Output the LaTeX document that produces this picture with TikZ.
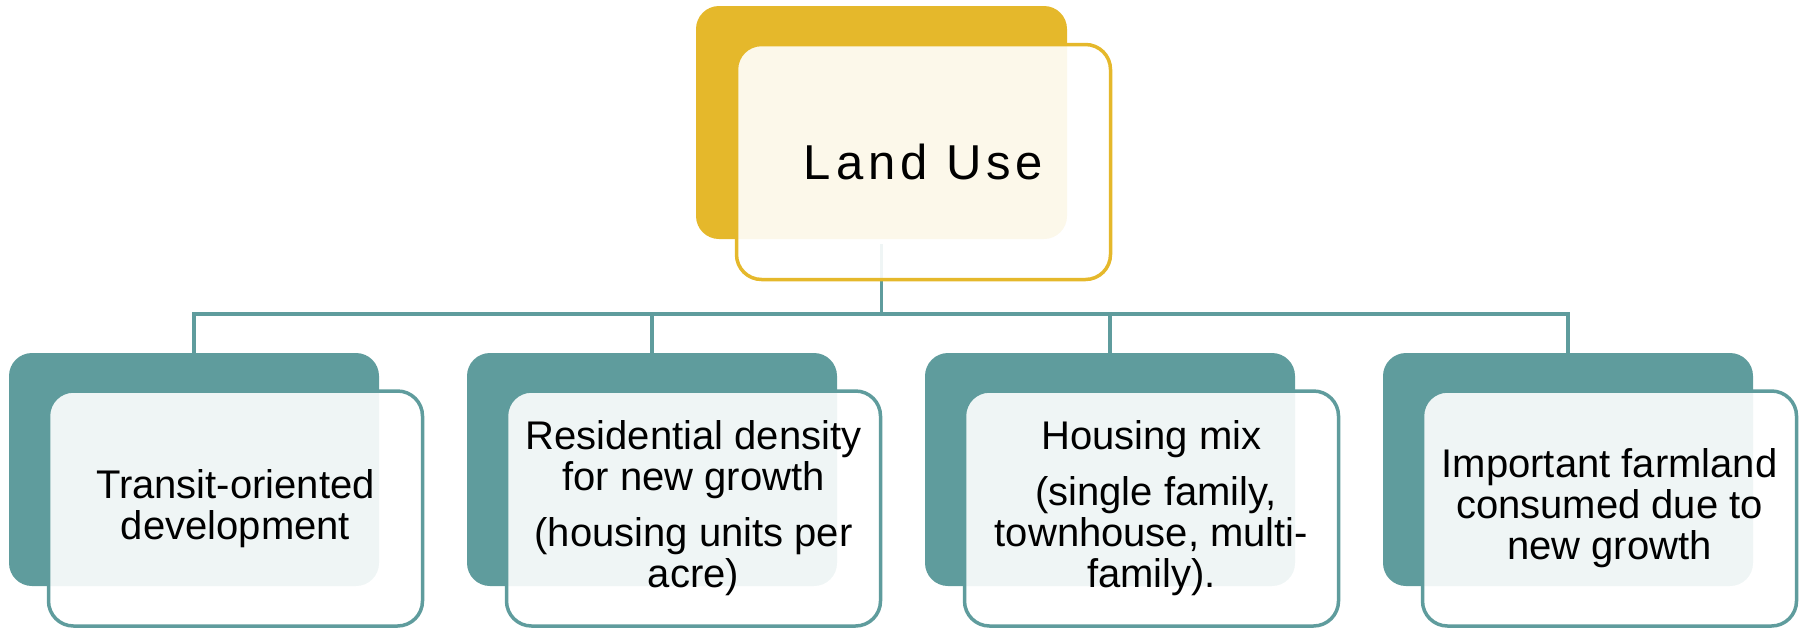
\documentclass[tikz,border=0pt]{standalone}
\usepackage{fontspec}
\setmainfont{Liberation Sans}
\definecolor{tealA}{HTML}{5F9C9D}
\definecolor{goldA}{HTML}{E5B82B}
\begin{document}
\begin{tikzpicture}[x=1pt,y=-1pt,
  backbox/.style={rectangle, rounded corners=23pt, minimum width=370pt, minimum height=233pt, inner sep=0pt},
  frontbox/.style={rectangle, rounded corners=25pt, minimum width=374pt, minimum height=235pt, inner sep=0pt,
    fill=white, fill opacity=0.9, text opacity=1, line width=3.5pt, align=center},
  kidfont/.style={font=\fontsize{40pt}{41pt}\selectfont},
  conn/.style={draw=tealA, line width=3.5pt}]
\useasboundingbox (0,0) rectangle (1804,630);
% back boxes
\node[backbox, fill=goldA, minimum width=371pt] (topb) at (881.5,122.5) {};
\foreach \i in {0,1,2,3} {
  \node[backbox, fill=tealA] (b\i) at (194+458*\i,469.5) {};
}
% connectors
\coordinate (bus) at (881.5,314);
\draw[conn] ([yshift=-5pt]topb.south) -- (bus);
\draw[conn] (b0.north) |- (bus) -| (b3.north);
\draw[conn] (b1.north) -- (b1.north |- bus);
\draw[conn] (b2.north) -- (b2.north |- bus);
% front boxes
\node[frontbox, draw=goldA, font=\fontsize{49pt}{50pt}\selectfont] (topf) at (923.5,162)
  {\addfontfeature{LetterSpace=10}Land Use};
\node[frontbox, draw=tealA, kidfont] (f0) at (235.5,508.5)
  {Transit-oriented\\development};
\node[frontbox, draw=tealA, kidfont] (f1) at (693.5,508.5)
  {Residential density\\for new growth\\[15pt](housing units per\\acre)};
\node[frontbox, draw=tealA, kidfont] (f2) at (1151.5,508.5)
  {Housing mix\\[15pt]\hphantom{i}(single family,\\townhouse, multi-\\family).};
\node[frontbox, draw=tealA, kidfont] (f3) at (1609.5,508.5)
  {Important farmland\\consumed due to\\new growth};
\end{tikzpicture}
\end{document}
